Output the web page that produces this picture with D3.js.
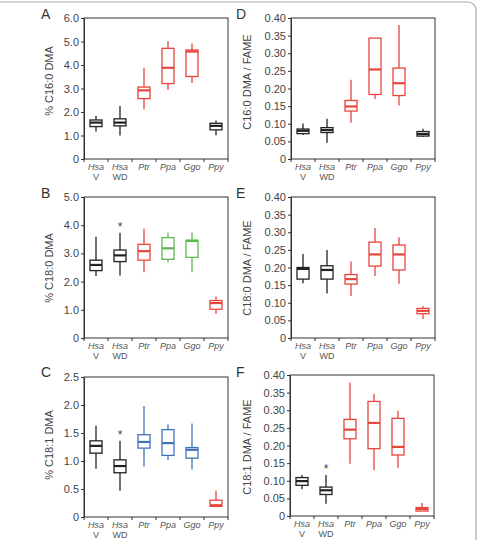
<!DOCTYPE html>
<html>
<head>
<meta charset="utf-8">
<script src="https://cdn.jsdelivr.net/npm/d3@7"></script>
<style>
  body { margin: 0; background: #fff; }
  svg, svg text { font-family: "Liberation Sans", Arial, sans-serif; }
  .tick text { fill: #444; font-size: 11px; }
  .xlab { fill: #555; font-size: 9px; }
</style>
</head>
<body>
<svg id="chart" width="479" height="540"></svg>
<script>
// species on the x axis (second line under the name, if any)
const species = ["Hsa", "Hsa", "Ptr", "Ppa", "Ggo", "Ppy"];
const subLabels = ["V", "WD", "", "", "", ""];

// boxes: [whisker low, q1, median, q3, whisker high]
const c160Pct = [[1.17,1.38,1.55,1.66,1.83],[1.0,1.41,1.55,1.71,2.26],[2.12,2.57,2.92,3.06,3.87],
                 [2.94,3.21,3.88,4.71,5.02],[3.23,3.51,4.57,4.64,4.91],[1.01,1.24,1.41,1.52,1.64]];
const c180Pct = [[2.2,2.39,2.59,2.76,3.59],[2.22,2.71,2.93,3.12,3.73],[2.33,2.76,3.08,3.32,3.88],
                 [2.68,2.79,3.18,3.56,3.74],[2.33,2.86,3.44,3.47,3.74],[0.85,1.02,1.24,1.33,1.47]];
const c181Pct = [[0.86,1.14,1.27,1.36,1.63],[0.47,0.79,0.91,1.02,1.36],[0.90,1.23,1.34,1.47,1.98],
                 [1.02,1.10,1.32,1.56,1.65],[0.85,1.05,1.20,1.24,1.67],[0.18,0.19,0.21,0.30,0.47]];
const c160Fame = [[0.068,0.072,0.080,0.085,0.101],[0.046,0.075,0.082,0.089,0.114],[0.103,0.136,0.149,0.166,0.225],
                  [0.170,0.183,0.254,0.343,0.343],[0.152,0.180,0.215,0.258,0.380],[0.063,0.065,0.071,0.078,0.086]];
const c180Fame = [[0.155,0.167,0.196,0.200,0.238],[0.126,0.167,0.193,0.205,0.250],[0.119,0.153,0.167,0.180,0.217],
                  [0.176,0.204,0.237,0.272,0.312],[0.154,0.193,0.237,0.264,0.286],[0.054,0.069,0.077,0.084,0.090]];
const c181Fame = [[0.076,0.087,0.099,0.109,0.116],[0.035,0.061,0.073,0.082,0.116],[0.148,0.219,0.245,0.274,0.379],
                  [0.130,0.191,0.264,0.325,0.346],[0.137,0.173,0.196,0.277,0.299],[0.014,0.014,0.020,0.024,0.037]];

const K = "#222", R = "#e8453c", G = "#5cb84f", B = "#3f74b9";
const colorsA = [K, K, R, R, R, K];
const colorsB = [K, K, R, G, G, R];
const colorsC = [K, K, B, B, B, R];
const colorsD = [K, K, R, R, R, K];
const colorsE = [K, K, R, R, R, R];
const colorsF = [K, K, R, R, R, R];

const ticksPct6 = [0, 1, 2, 3, 4, 5, 6];
const ticksPct5 = [0, 1, 2, 3, 4, 5];
const ticksPct25 = [0, 0.5, 1, 1.5, 2, 2.5];
const ticksFame = [0, 0.05, 0.1, 0.15, 0.2, 0.25, 0.3, 0.35, 0.4];

const FONT = "'Liberation Sans', Arial, sans-serif";
const svg = d3.select("#chart");

// outer frame of the figure (cropped, rounded top-right)
svg.append("rect")
    .attr("x", -12).attr("y", 2)
    .attr("width", 488).attr("height", 560)
    .attr("rx", 8)
    .attr("fill", "none").attr("stroke", "#aaa").attr("stroke-width", 1.2);

function draw_panel(p) {
    var x = d3.scaleBand().domain(d3.range(species.length)).range([p.left, p.left + 144]);
    var y = d3.scaleLinear().domain([0, d3.max(p.ticks)]).range([p.bottom, p.top]);
    var g = svg.append("g");

    // frame
    g.append("rect")
        .attr("x", p.left).attr("y", p.top)
        .attr("width", 144).attr("height", p.bottom - p.top)
        .attr("fill", "none").attr("stroke", "#333").attr("stroke-width", 1);

    // y axis
    var fmt = p.fmt;
    g.append("g")
        .attr("transform", "translate(" + p.left + ",0)")
        .call(d3.axisLeft(y).tickValues(p.ticks).tickSize(3).tickPadding(2)
            .tickFormat(function(d) { return d === 0 ? "0" : d3.format(fmt)(d); }))
        .attr("font-family", FONT)
        .attr("font-size", 11)
        .call(function(a) {
            a.select(".domain").attr("stroke", "#333");
            a.selectAll(".tick line").attr("stroke", "#333");
            a.selectAll(".tick text").attr("fill", "#444");
        });

    // x ticks at category boundaries
    var bounds = d3.range(species.length + 1).map(function(i) { return p.left + i * x.bandwidth(); });
    g.selectAll(".xt").data(bounds).enter().append("line")
        .attr("x1", d => d).attr("x2", d => d)
        .attr("y1", p.bottom).attr("y2", p.bottom + 3)
        .attr("stroke", "#333");

    // x labels
    g.selectAll(".xlab1").data(species).enter().append("text")
        .attr("class", "xlab")
        .attr("x", (d, i) => x(i) + x.bandwidth() / 2)
        .attr("y", p.bottom + 11)
        .attr("text-anchor", "middle")
        .attr("font-style", "italic")
        .text(d => d);
    g.selectAll(".xlab2").data(subLabels).enter().append("text")
        .attr("class", "xlab")
        .attr("x", (d, i) => x(i) + x.bandwidth() / 2)
        .attr("y", p.bottom + 21)
        .attr("text-anchor", "middle")
        .text(d => d);

    // boxes
    var bw = 12;
    var boxes = g.selectAll(".box").data(p.data).enter().append("g")
        .attr("transform", (d, i) => "translate(" + (x(i) + x.bandwidth() / 2) + ",0)");
    boxes.append("line")
        .attr("x1", 0).attr("x2", 0)
        .attr("y1", d => y(d[0])).attr("y2", d => y(d[4]))
        .attr("stroke", (d, i) => p.colors[i]).attr("stroke-width", 1.3);
    boxes.append("rect")
        .attr("x", -bw / 2).attr("width", bw)
        .attr("y", d => y(d[3]))
        .attr("height", d => y(d[1]) - y(d[3]))
        .attr("fill", "#fff")
        .attr("stroke", (d, i) => p.colors[i]).attr("stroke-width", 1.3);
    boxes.append("line")
        .attr("x1", -bw / 2).attr("x2", bw / 2)
        .attr("y1", d => y(d[2])).attr("y2", d => y(d[2]))
        .attr("stroke", (d, i) => p.colors[i]).attr("stroke-width", 2.2);

    // significance stars
    (p.stars || []).forEach(function(i) {
        g.append("text")
            .attr("x", x(i) + x.bandwidth() / 2)
            .attr("y", y(p.data[i][4]) - 2)
            .attr("text-anchor", "middle")
            .attr("font-size", 12).attr("fill", "#444")
            .text("*");
    });

    // y title
    g.append("text")
        .attr("transform", "translate(" + p.titleX + "," + p.titleY + ") rotate(-90)")
        .attr("text-anchor", "middle")
        .attr("font-size", 11).attr("fill", "#444")
        .text(p.title);

    // panel letter
    g.append("text")
        .attr("x", p.letterX).attr("y", p.letterY)
        .attr("font-size", 14).attr("fill", "#333")
        .text(p.letter);
}

draw_panel({letter: "A", letterX: 41, letterY: 19, left: 84, top: 18, bottom: 159, ticks: ticksPct6, fmt: ".1f",
    data: c160Pct, colors: colorsA, title: "% C16:0 DMA", titleX: 53, titleY: 81});
draw_panel({letter: "B", letterX: 41, letterY: 198, left: 84, top: 197, bottom: 338, ticks: ticksPct5, fmt: ".1f",
    data: c180Pct, colors: colorsB, title: "% C18:0 DMA", titleX: 53, titleY: 268, stars: [1]});
draw_panel({letter: "C", letterX: 41, letterY: 377, left: 84, top: 377, bottom: 517, ticks: ticksPct25, fmt: ".1f",
    data: c181Pct, colors: colorsC, title: "% C18:1 DMA", titleX: 53, titleY: 445, stars: [1]});
draw_panel({letter: "D", letterX: 236, letterY: 19, left: 291, top: 18, bottom: 159, ticks: ticksFame, fmt: ".2f",
    data: c160Fame, colors: colorsD, title: "C16:0 DMA / FAME", titleX: 251, titleY: 82});
draw_panel({letter: "E", letterX: 236, letterY: 198, left: 291, top: 197, bottom: 338, ticks: ticksFame, fmt: ".2f",
    data: c180Fame, colors: colorsE, title: "C18:0 DMA / FAME", titleX: 251, titleY: 268});
draw_panel({letter: "F", letterX: 236, letterY: 377, left: 290, top: 375, bottom: 516, ticks: ticksFame, fmt: ".2f",
    data: c181Fame, colors: colorsF, title: "C18:1 DMA / FAME", titleX: 251, titleY: 447, stars: [1]});
</script>
</body>
</html>
